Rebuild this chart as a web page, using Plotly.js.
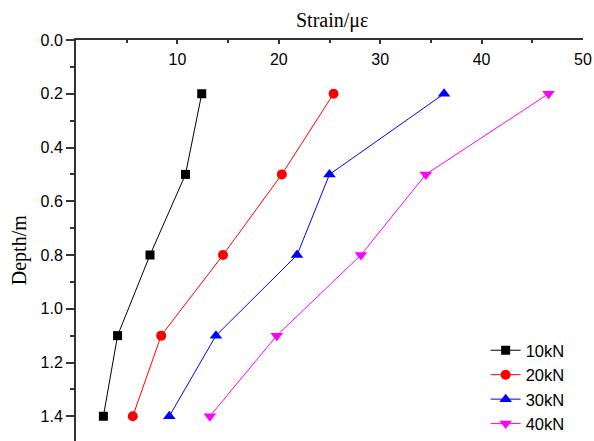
<!DOCTYPE html>
<html>
<head>
<meta charset="utf-8">
<script src="https://cdn.plot.ly/plotly-3.0.1.min.js"></script>
<style>html,body{margin:0;padding:0;background:#fff;}#chart{width:594px;height:441px;}</style>
</head>
<body>
<div id="chart"></div>
<script>
const depth = [0.2, 0.5, 0.8, 1.1, 1.4];
const strain10 = [12.4, 10.8, 7.3, 4.1, 2.7];
const strain20 = [25.4, 20.3, 14.5, 8.4, 5.6];
const strain30 = [36.3, 25.0, 21.8, 13.8, 9.2];
const strain40 = [46.6, 34.5, 28.1, 19.8, 13.2];
const seriesNames = ['10kN', '20kN', '30kN', '40kN'];
const xTicks = [10, 20, 30, 40, 50];
const yTicks = [0.0, 0.2, 0.4, 0.6, 0.8, 1.0, 1.2, 1.4];

const styles = [
  {color: '#000000', symbol: 'square', size: 9},
  {color: '#ff0000', symbol: 'circle', size: 10},
  {color: '#0000ff', symbol: 'triangle-up', size: 11},
  {color: '#ff00ff', symbol: 'triangle-down', size: 11}
];
const allX = [strain10, strain20, strain30, strain40];
const traces = allX.map((xs, i) => ({
  x: xs, y: depth, name: seriesNames[i], type: 'scatter', mode: 'lines+markers',
  line: {color: styles[i].color, width: 1},
  marker: {color: styles[i].color, symbol: styles[i].symbol, size: styles[i].size}
}));

const layout = {
  width: 594, height: 441,
  margin: {l: 76, r: 11, t: 40, b: 0},
  paper_bgcolor: '#fff', plot_bgcolor: '#fff',
  font: {family: 'Liberation Sans, Arial, sans-serif', size: 16, color: '#000'},
  showlegend: true,
  legend: {x: 0.808, y: 0.0, xanchor: 'left', yanchor: 'bottom', bgcolor: 'rgba(0,0,0,0)',
           font: {size: 16.5, family: 'Liberation Sans, Arial, sans-serif'}, tracegroupgap: 0},
  xaxis: {
    side: 'top', range: [0, 50], tickvals: xTicks, ticktext: xTicks.map(String),
    ticks: 'inside', ticklen: 4, tickwidth: 2, tickcolor: '#333',
    ticklabelposition: 'inside', ticklabeloverflow: 'allow', ticklabelstandoff: 10,
    tickfont: {color: '#000', size: 16},
    minor: {tickvals: [5, 15, 25, 35, 45], ticks: 'inside', ticklen: 3, tickwidth: 2, tickcolor: '#333'},
    showline: true, linewidth: 2, linecolor: '#333', showgrid: false, zeroline: false
  },
  yaxis: {
    range: [1.492, 0], tickvals: yTicks, ticktext: yTicks.map(v => v.toFixed(1)),
    ticks: 'outside', ticklen: 8, tickwidth: 2, tickcolor: '#333', ticklabeloverflow: 'allow',
    tickfont: {color: '#000', size: 16},
    minor: {tickvals: [0.1, 0.3, 0.5, 0.7, 0.9, 1.1, 1.3], ticks: 'outside', ticklen: 4, tickwidth: 2, tickcolor: '#333'},
    showline: true, linewidth: 2, linecolor: '#333', showgrid: false, zeroline: false
  },
  annotations: [{
    text: 'Depth/m', textangle: -90, xref: 'paper', yref: 'paper', x: -0.111, y: 0.475,
    xanchor: 'center', yanchor: 'middle', showarrow: false,
    font: {family: 'Liberation Serif, Times New Roman, serif', size: 20, color: '#000'}
  }, {
    text: 'Strain/με', xref: 'paper', yref: 'paper', x: 0.505, y: 1.0, yshift: 20,
    xanchor: 'center', yanchor: 'middle', showarrow: false,
    font: {family: 'Liberation Serif, Times New Roman, serif', size: 20, color: '#000'}
  }]
};
Plotly.newPlot('chart', traces, layout, {displayModeBar: false, staticPlot: true});
</script>
</body>
</html>
